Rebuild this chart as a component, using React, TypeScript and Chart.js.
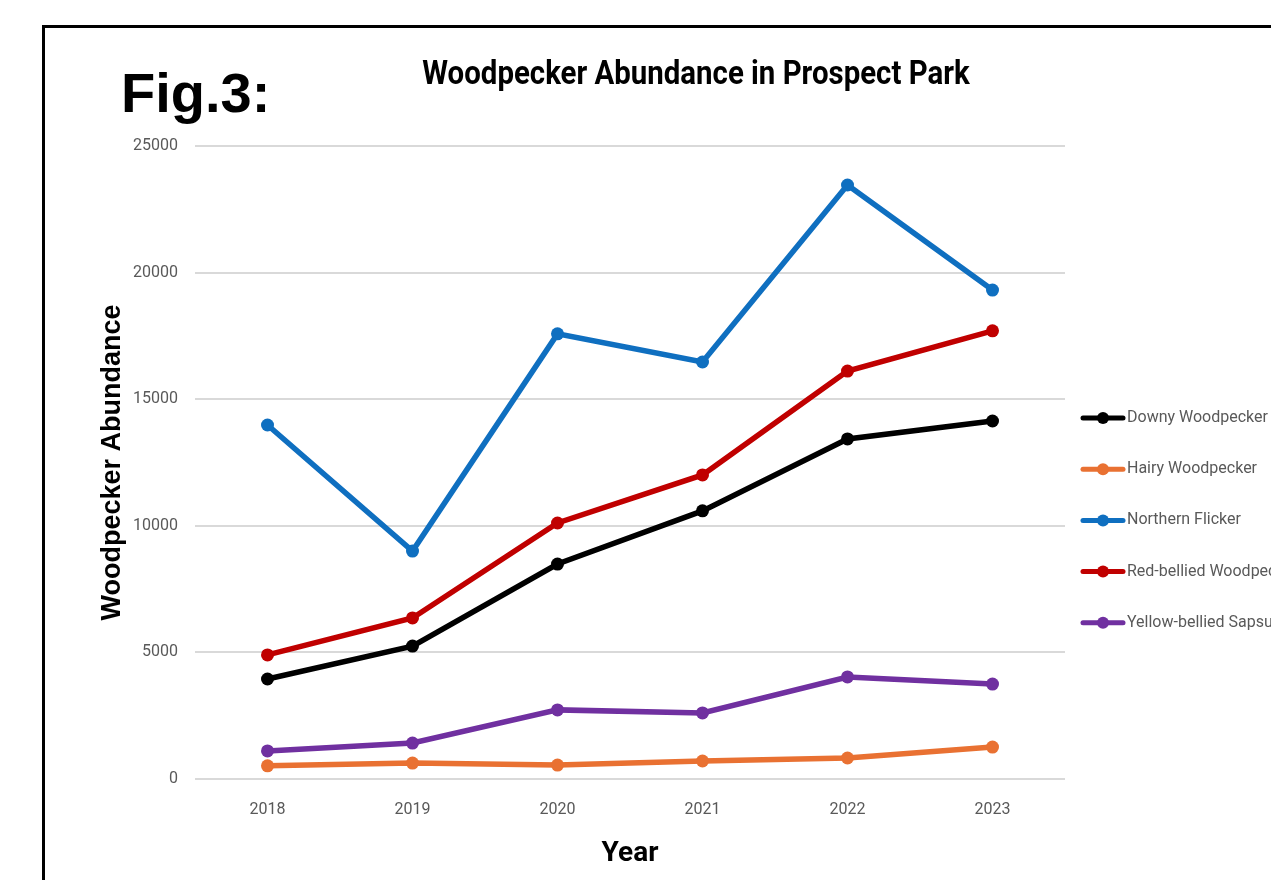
import React, { useEffect, useRef } from "react";
import { Chart, registerables } from "chart.js";

Chart.register(...registerables);

const years = ["2018", "2019", "2020", "2021", "2022", "2023"];
const downyWoodpecker = [3950, 5250, 8490, 10590, 13430, 14140];
const hairyWoodpecker = [520, 630, 550, 710, 830, 1260];
const northernFlicker = [13980, 9000, 17580, 16470, 23460, 19310];
const redBelliedWoodpecker = [4900, 6360, 10110, 12010, 16110, 17700];
const yellowBelliedSapsucker = [1110, 1420, 2730, 2610, 4030, 3750];

const seriesNames = [
  "Downy Woodpecker",
  "Hairy Woodpecker",
  "Northern Flicker",
  "Red-bellied Woodpecker",
  "Yellow-bellied Sapsucker",
];
const seriesColors = ["#000000", "#E97132", "#0F6FC0", "#C00000", "#7030A0"];
const seriesValues = [
  downyWoodpecker,
  hairyWoodpecker,
  northernFlicker,
  redBelliedWoodpecker,
  yellowBelliedSapsucker,
];

const chartTitle = "Woodpecker Abundance in Prospect Park";
const figLabel = "Fig.3:";
const yTitle = "Woodpecker Abundance";
const xTitle = "Year";

const NARROW = '"Roboto", sans-serif';

const decorPlugin = {
  id: "decor",
  afterDraw(chart: any) {
    const ctx = chart.ctx;
    ctx.save();
    // Fig label
    ctx.fillStyle = "#000";
    ctx.font = 'bold 56px "Liberation Sans", Arial, sans-serif';
    ctx.textAlign = "left";
    ctx.textBaseline = "alphabetic";
    ctx.fillText(figLabel, 121, 112);
    // Title (condensed by horizontal scaling)
    ctx.save();
    ctx.translate(696, 75);
    ctx.scale(0.865, 1);
    ctx.font = "bold 34px " + NARROW;
    ctx.textAlign = "center";
    ctx.textBaseline = "middle";
    ctx.fillText(chartTitle, 0, 0);
    ctx.restore();
    // Legend
    const x0 = 1083;
    const y0 = 418;
    const gap = 51.2;
    chart.data.datasets.forEach((ds: any, i: number) => {
      const y = y0 + i * gap;
      ctx.strokeStyle = ds.borderColor;
      ctx.lineWidth = 5;
      ctx.lineCap = "round";
      ctx.beginPath();
      ctx.moveTo(x0, y);
      ctx.lineTo(x0 + 40, y);
      ctx.stroke();
      ctx.fillStyle = ds.borderColor;
      ctx.beginPath();
      ctx.arc(x0 + 20, y, 6, 0, Math.PI * 2);
      ctx.fill();
      ctx.fillStyle = "#595959";
      ctx.font = "16px " + NARROW;
      ctx.textAlign = "left";
      ctx.textBaseline = "middle";
      ctx.fillText(ds.label, x0 + 44, y);
    });
    ctx.restore();
  },
};

export default function App() {
  const canvasRef = useRef<HTMLCanvasElement | null>(null);

  useEffect(() => {
    const canvas = canvasRef.current;
    if (!canvas) return;
    const chart = new Chart(canvas, {
      type: "line",
      data: {
        labels: years,
        datasets: seriesNames.map((name, i) => ({
          label: name,
          data: seriesValues[i],
          borderColor: seriesColors[i],
          backgroundColor: seriesColors[i],
          borderWidth: 5.5,
          pointRadius: 6.5,
          pointHoverRadius: 6.5,
          pointBackgroundColor: seriesColors[i],
          pointBorderWidth: 0,
          tension: 0,
          fill: false,
        })),
      },
      options: {
        responsive: false,
        animation: false,
        devicePixelRatio: 1,
        layout: { padding: { top: 146, right: 206, bottom: 0, left: 0 } },
        plugins: {
          legend: { display: false },
          title: { display: false },
          tooltip: { enabled: false },
        },
        scales: {
          x: {
            offset: true,
            grid: { display: false, drawTicks: false },
            border: { display: false },
            ticks: {
              color: "#595959",
              padding: 21,
              font: { family: NARROW, size: 16 },
            },
            title: {
              display: true,
              text: xTitle,
              color: "#000",
              font: { family: NARROW, size: 28, weight: "bold" },
              padding: { top: 0, bottom: 9 },
            },
            afterFit(scale: any) {
              scale.height = 101;
            },
          },
          y: {
            min: 0,
            max: 25000,
            ticks: {
              stepSize: 5000,
              color: "#595959",
              padding: 17,
              font: { family: NARROW, size: 16 },
              callback: (v: any) => String(v),
            },
            grid: { color: "#D9D9D9", lineWidth: 2, drawTicks: false },
            border: { display: false },
            title: {
              display: true,
              text: yTitle,
              color: "#000",
              font: { family: '"Liberation Sans", Arial, sans-serif', size: 27, weight: "bold" },
              padding: { top: 96, bottom: 0 },
            },
            afterFit(scale: any) {
              scale.width = 195;
            },
          },
        },
      },
      plugins: [decorPlugin],
    });
    return () => chart.destroy();
  }, []);

  return (
    <div
      style={{
        position: "absolute",
        left: 0,
        top: 0,
        width: 1271,
        height: 880,
        overflow: "hidden",
        background: "#fff",
      }}
    >
      <div
        style={{
          position: "absolute",
          left: 42,
          top: 25,
          width: 1400,
          height: 1000,
          border: "3px solid #000",
          boxSizing: "border-box",
        }}
      />
      <canvas
        ref={canvasRef}
        width={1271}
        height={880}
        style={{ position: "absolute", left: 0, top: 0, width: 1271, height: 880 }}
      />
    </div>
  );
}
